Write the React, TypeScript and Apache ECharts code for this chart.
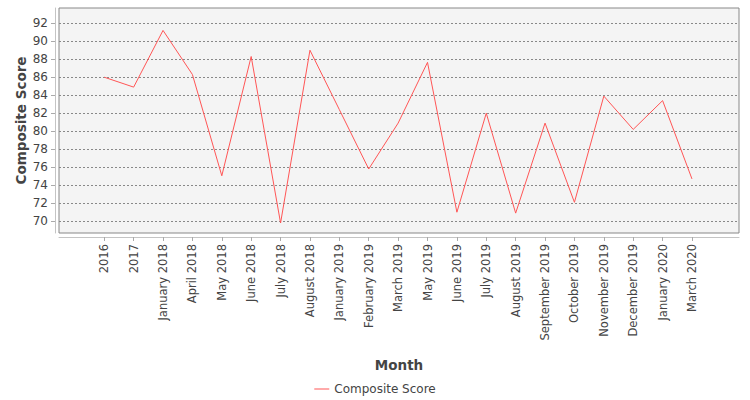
import { useEffect, useRef } from "react";
import * as echarts from "echarts";

const months = [
  "2016",
  "2017",
  "January 2018",
  "April 2018",
  "May 2018",
  "June 2018",
  "July 2018",
  "August 2018",
  "January 2019",
  "February 2019",
  "March 2019",
  "May 2019",
  "June 2019",
  "July 2019",
  "August 2019",
  "September 2019",
  "October 2019",
  "November 2019",
  "December 2019",
  "January 2020",
  "March 2020",
];

const scores = [
  86.0, 84.9, 91.2, 86.3, 75.05, 88.3, 69.8, 89.0, 82.4, 75.8, 80.9, 87.65, 71.0, 82.0, 70.9, 80.9,
  72.1, 83.9, 80.2, 83.4, 74.7,
];

const yTicks = [70, 72, 74, 76, 78, 80, 82, 84, 86, 88, 90, 92];

const FONT = "DejaVu Sans";

export default function App() {
  const chartRef = useRef<HTMLDivElement | null>(null);

  useEffect(() => {
    document.body.style.margin = "0";
    if (!chartRef.current) {
      return;
    }

    const chart = echarts.init(chartRef.current, null, { renderer: "svg" });
    const monthIndexes = months.map((_, i) => i);

    chart.setOption({
      animation: false,
      textStyle: { fontFamily: FONT },
      legend: {
        left: "center",
        top: 378,
        icon: "path://M0,0 L15,0 L15,1 L0,1 Z",
        itemWidth: 15,
        itemHeight: 1,
        itemGap: 10,
        textStyle: { color: "#444", fontSize: 12, fontFamily: FONT },
        data: ["Composite Score"],
      },
      grid: {
        left: 59,
        right: 11,
        top: 8,
        bottom: 167,
        show: true,
        backgroundColor: "#f4f4f4",
        borderColor: "#888",
        borderWidth: 1,
      },
      xAxis: {
        type: "value",
        min: -1.54,
        max: 21.6,
        offset: 4,
        name: "Month",
        nameLocation: "middle",
        nameGap: 121,
        nameTextStyle: { color: "#444", fontSize: 13.5, fontWeight: "bold", fontFamily: FONT },
        axisLine: { show: true, onZero: false, lineStyle: { color: "#c4c4c4" } },
        axisTick: { show: true, length: 4, customValues: monthIndexes, lineStyle: { color: "#aaa" } },
        axisLabel: {
          customValues: monthIndexes,
          rotate: 90,
          margin: 7,
          color: "#444",
          fontSize: 11.5,
          formatter: (value: number) => months[Math.round(value)] ?? "",
        },
        splitLine: { show: false },
      },
      yAxis: {
        type: "value",
        min: 68.69,
        max: 93.69,
        offset: 4,
        name: "Composite Score",
        nameLocation: "middle",
        nameGap: 27,
        nameMoveOverlap: false,
        nameTextStyle: { color: "#444", fontSize: 13.5, fontWeight: "bold", fontFamily: FONT },
        axisLine: { show: true, onZero: false, lineStyle: { color: "#c4c4c4" } },
        axisTick: { show: true, length: 4, customValues: yTicks, lineStyle: { color: "#aaa" } },
        axisLabel: { customValues: yTicks, margin: 7, color: "#444", fontSize: 12 },
        splitLine: { show: true, lineStyle: { color: "#888", type: [2, 2], width: 1 } },
      },
      series: [
        {
          name: "Composite Score",
          type: "line",
          symbol: "none",
          lineStyle: { color: "#ff5555", width: 1 },
          itemStyle: { color: "#ff5555" },
          data: scores.map((v, i) => [i, v]),
        },
      ],
    });

    return () => {
      chart.dispose();
    };
  }, []);

  return <div ref={chartRef} style={{ width: 750, height: 400 }} />;
}
